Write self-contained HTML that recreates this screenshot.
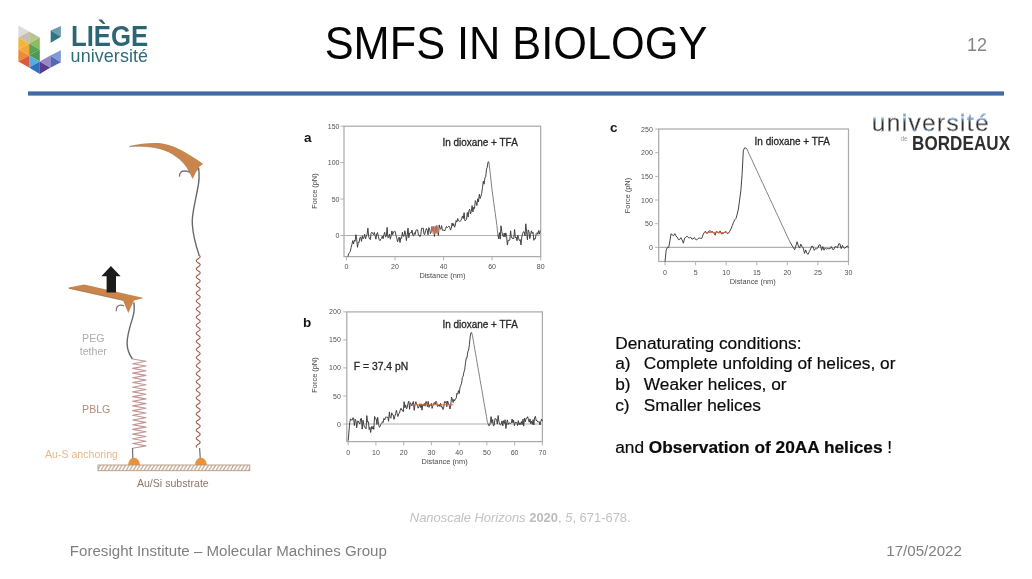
<!DOCTYPE html>
<html><head><meta charset="utf-8"><title>SMFS in Biology</title>
<style>
html,body{margin:0;padding:0;background:#fff;}
body{width:1032px;height:579px;position:relative;overflow:hidden;font-family:"Liberation Sans",Arial,sans-serif;color:#000;}
#stage{position:absolute;left:0;top:0;width:1032px;height:579px;will-change:transform;transform:translateZ(0);filter:blur(0.45px);}
.abs{position:absolute;white-space:nowrap;}
#title{left:0;width:1032px;top:19.1px;text-align:center;font-size:43.3px;line-height:50px;color:#050505;transform:scaleY(1.05);transform-origin:50% 81%;}
#rule{left:28px;top:90.6px;width:975.5px;height:5px;background:linear-gradient(to bottom,rgba(63,108,169,0.35) 0,#3f6ca9 24%,#3f6ca9 76%,rgba(63,108,169,0.35) 100%);}
#pnum{left:967px;top:33.5px;font-size:18px;line-height:22px;color:#858585;}
#foot-l{left:69.8px;top:542px;font-size:15.1px;line-height:18px;color:#7f7f7f;}
#foot-r{left:886.3px;top:542px;font-size:15.1px;line-height:18px;color:#7f7f7f;}
#cite{left:409.8px;top:509.5px;font-size:12.95px;line-height:16px;color:#c2c2c2;}
#cite b{color:#bcbcbc;}
#txt{left:615.2px;top:332.6px;font-size:17.3px;line-height:20.8px;color:#0a0a0a;-webkit-text-stroke:0.2px #0a0a0a;}
#txt .k{display:inline-block;width:28.6px;}
svg{position:absolute;left:0;top:0;}
svg text{font-family:"Liberation Sans",Arial,sans-serif;}
#lg1{left:70.7px;top:19.1px;font-size:28.6px;line-height:34px;font-weight:bold;color:#2c6674;transform:scale(0.9,1.05);transform-origin:0 78%;}
#lg2{left:70.6px;top:44.8px;font-size:17.9px;letter-spacing:0.1px;line-height:22px;color:#2f6a78;}
#bx1{left:871.8px;top:108px;font-size:24.5px;line-height:30px;letter-spacing:1.32px;-webkit-text-stroke:0.28px #fff;color:transparent;-webkit-background-clip:text;background-clip:text;background-repeat:no-repeat;background-image:linear-gradient(to bottom,#5a9ad8 0,#5a9ad8 36%,rgba(90,154,216,0) 50%),linear-gradient(to bottom,#5a9ad8 0,#5a9ad8 36%,rgba(90,154,216,0) 50%),linear-gradient(to top,#5a9ad8 0,#5a9ad8 20%,rgba(90,154,216,0) 34%),linear-gradient(to bottom,#5a9ad8 0,#5a9ad8 36%,rgba(90,154,216,0) 50%),linear-gradient(#2f2f2f,#2f2f2f);background-size:14.6px 100%,6.8px 100%,28.4px 100%,43.6px 100%,100% 100%;background-position:0 0,29.8px 0,36.7px 0,74.5px 0,0 0;}
#bx2{left:912.3px;top:132.8px;font-size:19.2px;line-height:22px;font-weight:bold;color:#2e2e2e;transform:scale(0.887,1.04);transform-origin:0 78%;letter-spacing:0.1px;}
#bx3{left:900.5px;top:134.5px;font-size:6.5px;line-height:8px;color:#9a9a9a;}
</style></head>
<body>
<div id="stage">
<div class="abs" id="title">SMFS IN BIOLOGY</div>
<div class="abs" id="rule"></div>
<div class="abs" id="pnum">12</div>
<svg width="1032" height="579" viewBox="0 0 1032 579">
<g id="liege">
<polygon points="18.4,25.5 29.1,31.5 18.4,37.5" fill="#dcdcdc"/>
<polygon points="29.1,31.5 18.4,37.5 29.1,43.5" fill="#c4bfae"/>
<polygon points="29.1,31.5 39.8,37.5 29.1,43.5" fill="#b9c492"/>
<polygon points="18.4,37.5 29.1,43.5 18.4,49.5" fill="#f2b63c"/>
<polygon points="29.1,43.5 18.4,49.5 29.1,55.5" fill="#f0a83a"/>
<polygon points="39.8,37.5 29.1,43.5 39.8,49.5" fill="#8bbd5e"/>
<polygon points="29.1,43.5 39.8,49.5 29.1,55.5" fill="#5aa355"/>
<polygon points="18.4,49.5 29.1,55.5 18.4,61.5" fill="#ec8a35"/>
<polygon points="29.1,55.5 18.4,61.5 29.1,67.5" fill="#db5a3e"/>
<polygon points="39.8,49.5 29.1,55.5 39.8,61.5" fill="#4f9a50"/>
<polygon points="29.1,55.5 39.8,61.5 29.1,67.5" fill="#52aee0"/>
<polygon points="29.1,67.5 39.8,61.5 39.8,73.9" fill="#2f6fc0"/>
<polygon points="39.8,61.5 50.4,67.5 39.8,73.9" fill="#5a3c8e"/>
<polygon points="39.8,61.5 50.4,55.6 50.4,67.8" fill="#9a86c4"/>
<polygon points="50.4,55.6 60.9,62.2 50.4,67.8" fill="#5568b6"/>
<polygon points="50.4,55.6 60.9,50.2 60.9,62.2" fill="#7f9ad6"/>
<polygon points="50.7,30.6 60.9,25.9 60.9,36.8" fill="#6b9dab"/>
<polygon points="50.7,30.6 60.9,36.8 50.7,42.8" fill="#2f7486"/>
</g>
<g id="diagram">
<path d="M129.4,146 C140,143.5 150,142.6 158.7,143.1 C172,144 186,152 203.2,163.9 L199.4,166.5 L198.6,169 L196.2,171.7 L192.6,179 L189.9,173.5 C187,165 180,158 168.4,151.8 C158,147 145,145.6 129.4,146.6 Z" fill="#c9854c"/>
<path d="M179.5,176.6 C179.3,172.5 181.5,171 184.1,171 C186.5,171 188.3,171.4 189.7,172.2" fill="none" stroke="#77777a" stroke-width="1.3"/>
<path d="M129.4,146.6 C145,145.6 158,147 168.4,151.8 C180,158 187,165 189.9,173.5" fill="none" stroke="#8e6a55" stroke-width="0.8" opacity="0.7"/>
<path d="M198.6,168 C199.6,175 199.2,182 197.4,190 C195,203 191.5,215 192.3,224 C193,235 196,246 199,254.7" fill="none" stroke="#68686c" stroke-width="1.4"/>
<polyline points="198.2,254.7 199.4,255.5 200.1,256.3 200.1,257.1 199.4,257.9 198.3,258.7 197.1,259.5 196.3,260.3 196.3,261.1 196.9,261.9 198.1,262.7 199.3,263.5 200.1,264.3 200.1,265.1 199.5,265.9 198.4,266.7 197.2,267.5 196.4,268.3 196.2,269.1 196.9,269.9 198.0,270.7 199.2,271.5 200.0,272.3 200.2,273.1 199.6,273.9 198.5,274.7 197.3,275.5 196.4,276.3 196.2,277.1 196.8,277.9 197.9,278.7 199.1,279.5 200.0,280.3 200.2,281.1 199.7,281.9 198.6,282.7 197.4,283.5 196.5,284.3 196.2,285.1 196.7,285.9 197.8,286.7 199.0,287.5 199.9,288.3 200.2,289.1 199.7,289.9 198.7,290.7 197.5,291.5 196.5,292.3 196.2,293.1 196.6,293.9 197.7,294.7 198.9,295.5 199.9,296.3 200.2,297.1 199.8,297.9 198.8,298.7 197.6,299.5 196.6,300.3 196.2,301.1 196.6,301.9 197.6,302.7 198.8,303.5 199.8,304.3 200.2,305.1 199.9,305.9 198.9,306.7 197.7,307.5 196.6,308.3 196.2,309.1 196.5,309.9 197.5,310.7 198.7,311.5 199.7,312.3 200.2,313.1 199.9,313.9 199.0,314.7 197.8,315.5 196.7,316.3 196.2,317.1 196.5,317.9 197.4,318.7 198.6,319.5 199.6,320.3 200.2,321.1 200.0,321.9 199.1,322.7 197.9,323.5 196.8,324.3 196.2,325.1 196.4,325.9 197.3,326.7 198.5,327.5 199.6,328.3 200.2,329.1 200.0,329.9 199.2,330.7 198.0,331.5 196.9,332.3 196.2,333.1 196.4,333.9 197.2,334.7 198.4,335.5 199.5,336.3 200.1,337.1 200.1,337.9 199.3,338.7 198.1,339.5 197.0,340.3 196.3,341.1 196.3,341.9 197.1,342.7 198.2,343.5 199.4,344.3 200.1,345.1 200.1,345.9 199.4,346.7 198.2,347.5 197.0,348.3 196.3,349.1 196.3,349.9 197.0,350.7 198.1,351.5 199.3,352.3 200.1,353.1 200.1,353.9 199.5,354.7 198.3,355.5 197.1,356.3 196.3,357.1 196.3,357.9 196.9,358.7 198.0,359.5 199.2,360.3 200.0,361.1 200.2,361.9 199.5,362.7 198.4,363.5 197.2,364.3 196.4,365.1 196.2,365.9 196.8,366.7 197.9,367.5 199.1,368.3 200.0,369.1 200.2,369.9 199.6,370.7 198.5,371.5 197.3,372.3 196.4,373.1 196.2,373.9 196.7,374.7 197.8,375.5 199.0,376.3 199.9,377.1 200.2,377.9 199.7,378.7 198.6,379.5 197.4,380.3 196.5,381.1 196.2,381.9 196.7,382.7 197.7,383.5 198.9,384.3 199.9,385.1 200.2,385.9 199.8,386.7 198.7,387.5 197.5,388.3 196.6,389.1 196.2,389.9 196.6,390.7 197.6,391.5 198.8,392.3 199.8,393.1 200.2,393.9 199.8,394.7 198.8,395.5 197.6,396.3 196.6,397.1 196.2,397.9 196.5,398.7 197.5,399.5 198.7,400.3 199.8,401.1 200.2,401.9 199.9,402.7 199.0,403.5 197.7,404.3 196.7,405.1 196.2,405.9 196.5,406.7 197.4,407.5 198.6,408.3 199.7,409.1 200.2,409.9 199.9,410.7 199.1,411.5 197.8,412.3 196.8,413.1 196.2,413.9 196.4,414.7 197.3,415.5 198.5,416.3 199.6,417.1 200.2,417.9 200.0,418.7 199.1,419.5 197.9,420.3 196.8,421.1 196.2,421.9 196.4,422.7 197.2,423.5 198.4,424.3 199.5,425.1 200.2,425.9 200.0,426.7 199.2,427.5 198.1,428.3 196.9,429.1 196.3,429.9 196.3,430.7 197.1,431.5 198.3,432.3 199.4,433.1 200.1,433.9 200.1,434.7 199.3,435.5 198.2,436.3 197.0,437.1 196.3,437.9 196.3,438.7 197.0,439.5 198.2,440.3 199.4,441.1 200.1,441.9 200.1,442.7 199.4,443.5 198.3,444.3 197.1,445.1 196.3,445.9 196.3,446.7 196.9,447.5" fill="none" stroke="#a05a4e" stroke-width="1.05"/>
<line x1="199.6" y1="448" x2="200.2" y2="458" stroke="#6e6e72" stroke-width="1.2"/>
<path d="M68.7,287.4 L84.2,284.4 L143.7,297.9 L134,300.6 L128.3,313 L123,300.4 L68.7,288.4 Z" fill="#c9854c"/>
<path d="M116.2,311.2 C116,307 118,305.2 120.5,305.2 C122,305.2 123,305.4 124,306" fill="none" stroke="#77777a" stroke-width="1.3"/>
<path d="M68.7,288.2 L123,300.4" fill="none" stroke="#8e6a55" stroke-width="0.8" opacity="0.7"/>
<path d="M110.9,266 L120.6,276.3 L116,276.3 L116,292.5 L106.6,292.5 L106.6,276.3 L101.4,276.3 Z" fill="#1c1c1c"/>
<path d="M133.8,302.5 C135,309 133.8,314 132.6,318 C130,326 127,335 127.1,343.5 C127.3,351 129.5,355 132.5,359" fill="none" stroke="#68686c" stroke-width="1.4"/>
<polyline points="132.6,359.0 146.0,361.3 132.6,363.7 146.0,366.0 132.6,368.4 146.0,370.7 132.6,373.1 146.0,375.4 132.6,377.8 146.0,380.1 132.6,382.5 146.0,384.8 132.6,387.2 146.0,389.5 132.6,391.9 146.0,394.2 132.6,396.6 146.0,398.9 132.6,401.3 146.0,403.6 132.6,405.9 146.0,408.3 132.6,410.6 146.0,413.0 132.6,415.3 146.0,417.7 132.6,420.0 146.0,422.4 132.6,424.7 146.0,427.1 132.6,429.4 146.0,431.8 132.6,434.1 146.0,436.5 132.6,438.8 146.0,441.2 132.6,443.5 146.0,445.9 132.6,448.2" fill="none" stroke="#c39696" stroke-width="1.15" stroke-linejoin="round"/>
<line x1="132.5" y1="448" x2="132.8" y2="458" stroke="#6e6e72" stroke-width="1.2"/>
<path d="M128.0,465 A6,7.2 0 0 1 140.0,465 Z" fill="#e8923a"/>
<path d="M194.9,465 A6,7.2 0 0 1 206.9,465 Z" fill="#e8923a"/>
<defs><pattern id="hat" width="3.6" height="6" patternUnits="userSpaceOnUse" patternTransform="translate(98,465)"><path d="M-1,6 L2.6,0 M2.6,6 L6.2,0" stroke="#c2a88f" stroke-width="1.3"/></pattern></defs>
<rect x="98" y="465" width="151.8" height="5.7" fill="url(#hat)" stroke="#b59885" stroke-width="0.9"/>
<text x="93.3" y="341.6" font-size="10.6" fill="#adadad" text-anchor="middle">PEG</text>
<text x="93.3" y="354.5" font-size="10.6" fill="#adadad" text-anchor="middle">tether</text>
<text x="96.2" y="412.9" font-size="10.6" fill="#b48a78" text-anchor="middle">PBLG</text>
<text x="81.5" y="458" font-size="10.6" fill="#ecb686" text-anchor="middle">Au-S anchoring</text>
<text x="172.8" y="487" font-size="10.6" fill="#917669" text-anchor="middle">Au/Si substrate</text>
</g>
<g id="charts">
<rect x="344.0" y="126.2" width="196.7" height="130.4" fill="none" stroke="#ababab" stroke-width="1.25"/>
<line x1="344.0" y1="235.5" x2="540.7" y2="235.5" stroke="#b0b0b0" stroke-width="1.2"/>
<line x1="346.4" y1="256.6" x2="346.4" y2="260.4" stroke="#ababab" stroke-width="0.9"/>
<text x="346.4" y="269.0" font-size="7" fill="#505050" text-anchor="middle">0</text>
<line x1="395.0" y1="256.6" x2="395.0" y2="260.4" stroke="#ababab" stroke-width="0.9"/>
<text x="395.0" y="269.0" font-size="7" fill="#505050" text-anchor="middle">20</text>
<line x1="443.6" y1="256.6" x2="443.6" y2="260.4" stroke="#ababab" stroke-width="0.9"/>
<text x="443.6" y="269.0" font-size="7" fill="#505050" text-anchor="middle">40</text>
<line x1="492.1" y1="256.6" x2="492.1" y2="260.4" stroke="#ababab" stroke-width="0.9"/>
<text x="492.1" y="269.0" font-size="7" fill="#505050" text-anchor="middle">60</text>
<line x1="540.7" y1="256.6" x2="540.7" y2="260.4" stroke="#ababab" stroke-width="0.9"/>
<text x="540.7" y="269.0" font-size="7" fill="#505050" text-anchor="middle">80</text>
<line x1="340.4" y1="235.5" x2="344.0" y2="235.5" stroke="#ababab" stroke-width="0.9"/>
<text x="339.5" y="238.0" font-size="7" fill="#505050" text-anchor="end">0</text>
<line x1="340.4" y1="199.1" x2="344.0" y2="199.1" stroke="#ababab" stroke-width="0.9"/>
<text x="339.5" y="201.6" font-size="7" fill="#505050" text-anchor="end">50</text>
<line x1="340.4" y1="162.6" x2="344.0" y2="162.6" stroke="#ababab" stroke-width="0.9"/>
<text x="339.5" y="165.1" font-size="7" fill="#505050" text-anchor="end">100</text>
<line x1="340.4" y1="126.2" x2="344.0" y2="126.2" stroke="#ababab" stroke-width="0.9"/>
<text x="339.5" y="128.7" font-size="7" fill="#505050" text-anchor="end">150</text>
<text x="442.4" y="278.4" font-size="7.4" fill="#4a4a4a" text-anchor="middle">Distance (nm)</text>
<text transform="translate(316.6,191.0) rotate(-90)" font-size="7.4" fill="#4a4a4a" text-anchor="middle">Force (pN)</text>
<text x="442.4" y="146.0" font-size="10.6" textLength="75.4" lengthAdjust="spacingAndGlyphs" fill="#262626" stroke="#262626" stroke-width="0.3">In dioxane + TFA</text>
<text x="303.9" y="141.6" font-size="13.5" font-weight="bold" fill="#161616">a</text>
<polyline fill="none" stroke="#7a7a7a" stroke-width="0.95" stroke-linejoin="round" points="488.9,162.1 489.7,168.9 490.5,175.9 491.3,183.1 492.1,190.5 492.9,196.2 493.7,202.4 494.5,208.1 495.3,213.8 496.1,219.5 496.9,225.5 497.8,234.6"/>
<polyline fill="none" stroke="#3a3a3a" stroke-width="0.95" stroke-linejoin="round" points="347.9,256.6 348.7,253.7 349.5,252.6 350.3,251.4 351.1,247.6 351.9,244.6 352.7,240.7 353.5,244.0 354.3,240.2 355.1,241.3 355.9,234.7 356.7,239.1 357.5,247.3 358.3,242.2 359.1,242.5 359.9,237.6 360.7,237.2 361.5,241.4 362.3,235.8 363.1,238.8 363.9,237.4 364.7,234.3 365.5,238.9 366.3,236.3 367.1,234.3 367.9,228.2 368.7,236.7 369.5,238.8 370.3,239.6 371.1,233.2 371.9,232.2 372.7,233.7 373.5,234.7 374.3,232.4 375.1,235.6 375.9,239.2 376.7,234.0 377.5,232.5 378.3,236.3 379.1,239.4 379.9,240.7 380.7,239.1 381.5,238.4 382.3,236.1 383.1,238.8 383.9,234.7 384.7,232.3 385.5,237.0 386.3,236.3 387.1,227.4 387.9,237.8 388.7,237.3 389.5,234.2 390.3,239.2 391.1,236.0 391.9,230.9 392.7,234.7 393.5,231.9 394.3,231.3 395.2,231.5 396.0,235.6 396.8,238.1 397.6,241.8 398.4,239.3 399.2,237.1 400.0,242.6 400.8,237.7 401.6,238.3 402.4,232.2 403.2,236.2 404.0,236.2 404.8,230.8 405.6,234.1 406.4,240.6 407.2,235.0 408.0,228.1 408.8,237.7 409.6,233.0 410.4,232.7 411.2,233.1 412.0,230.1 412.8,235.3 413.6,236.0 414.4,232.7 415.2,234.4 416.0,230.2 416.8,229.7 417.6,230.0 418.4,235.1 419.2,235.0 420.0,236.6 420.8,234.5 421.6,228.2 422.4,228.3 423.2,228.0 424.0,234.3 424.8,234.4 425.6,230.5 426.4,228.5 427.2,230.1 428.0,234.9 428.8,227.6 429.6,228.8 430.4,233.7 431.2,232.3 432.0,226.5 432.8,231.4 433.6,226.7 434.4,236.4 435.2,226.5 436.0,232.9 436.8,225.5 437.6,230.8 438.4,235.4 439.2,224.9 440.0,228.6 440.8,229.2 441.6,225.6 442.4,230.4 443.2,230.3 444.0,230.0 444.8,230.9 445.6,228.7 446.5,226.5 447.3,227.7 448.1,226.8 448.9,226.1 449.7,226.7 450.5,230.1 451.3,228.2 452.1,223.0 452.9,226.1 453.7,223.6 454.5,227.2 455.3,225.5 456.1,220.5 456.9,222.0 457.7,218.5 458.5,220.7 459.3,221.2 460.1,221.3 460.9,220.7 461.7,218.4 462.5,215.9 463.3,218.6 464.1,212.7 464.9,220.8 465.7,220.4 466.5,219.5 467.3,212.5 468.1,217.1 468.9,210.6 469.7,209.1 470.5,214.0 471.3,211.6 472.1,205.6 472.9,211.9 473.7,207.2 474.5,208.5 475.3,200.6 476.1,202.3 476.9,205.5 477.7,198.7 478.5,202.0 479.3,194.2 480.1,198.5 480.9,196.3 481.7,193.3 482.5,187.4 483.3,181.2 484.1,184.2 484.9,178.0 485.7,176.9 486.5,169.1 487.3,167.1 488.1,161.8 488.9,162.1"/>
<polyline fill="none" stroke="#3a3a3a" stroke-width="0.95" stroke-linejoin="round" points="497.8,234.6 498.6,238.8 499.4,232.6 500.2,239.1 501.0,225.8 501.8,231.7 502.6,235.4 503.4,236.6 504.2,233.1 505.0,237.1 505.8,232.9 506.6,236.4 507.4,245.1 508.2,240.2 509.0,240.6 509.8,240.0 510.6,230.8 511.4,237.6 512.2,237.5 513.0,239.0 513.8,237.8 514.6,229.5 515.4,237.9 516.2,237.1 517.0,240.7 517.8,235.1 518.6,238.3 519.4,240.6 520.2,239.6 521.0,244.9 521.8,237.0 522.6,233.7 523.4,231.7 524.2,232.1 525.0,235.9 525.8,223.8 526.6,231.9 527.4,239.8 528.2,229.9 529.0,231.7 529.8,238.6 530.6,234.3 531.4,230.8 532.2,233.4 533.0,232.2 533.8,240.3 534.6,238.5 535.4,238.8 536.2,233.5 537.0,232.7 537.8,234.4 538.6,230.6 539.4,234.1 540.2,230.5"/>
<circle cx="435.1" cy="230.1" r="4.3" fill="#ee8468" opacity="0.62"/>
<rect x="346.8" y="311.9" width="195.6" height="129.7" fill="none" stroke="#ababab" stroke-width="1.25"/>
<line x1="346.8" y1="424.0" x2="542.4" y2="424.0" stroke="#b0b0b0" stroke-width="1.2"/>
<line x1="348.2" y1="441.6" x2="348.2" y2="445.4" stroke="#ababab" stroke-width="0.9"/>
<text x="348.2" y="454.5" font-size="7" fill="#505050" text-anchor="middle">0</text>
<line x1="375.9" y1="441.6" x2="375.9" y2="445.4" stroke="#ababab" stroke-width="0.9"/>
<text x="375.9" y="454.5" font-size="7" fill="#505050" text-anchor="middle">10</text>
<line x1="403.7" y1="441.6" x2="403.7" y2="445.4" stroke="#ababab" stroke-width="0.9"/>
<text x="403.7" y="454.5" font-size="7" fill="#505050" text-anchor="middle">20</text>
<line x1="431.4" y1="441.6" x2="431.4" y2="445.4" stroke="#ababab" stroke-width="0.9"/>
<text x="431.4" y="454.5" font-size="7" fill="#505050" text-anchor="middle">30</text>
<line x1="459.2" y1="441.6" x2="459.2" y2="445.4" stroke="#ababab" stroke-width="0.9"/>
<text x="459.2" y="454.5" font-size="7" fill="#505050" text-anchor="middle">40</text>
<line x1="486.9" y1="441.6" x2="486.9" y2="445.4" stroke="#ababab" stroke-width="0.9"/>
<text x="486.9" y="454.5" font-size="7" fill="#505050" text-anchor="middle">50</text>
<line x1="514.6" y1="441.6" x2="514.6" y2="445.4" stroke="#ababab" stroke-width="0.9"/>
<text x="514.6" y="454.5" font-size="7" fill="#505050" text-anchor="middle">60</text>
<line x1="542.4" y1="441.6" x2="542.4" y2="445.4" stroke="#ababab" stroke-width="0.9"/>
<text x="542.4" y="454.5" font-size="7" fill="#505050" text-anchor="middle">70</text>
<line x1="343.2" y1="424.0" x2="346.8" y2="424.0" stroke="#ababab" stroke-width="0.9"/>
<text x="340.8" y="426.5" font-size="7" fill="#505050" text-anchor="end">0</text>
<line x1="343.2" y1="396.0" x2="346.8" y2="396.0" stroke="#ababab" stroke-width="0.9"/>
<text x="340.8" y="398.5" font-size="7" fill="#505050" text-anchor="end">50</text>
<line x1="343.2" y1="367.9" x2="346.8" y2="367.9" stroke="#ababab" stroke-width="0.9"/>
<text x="340.8" y="370.4" font-size="7" fill="#505050" text-anchor="end">100</text>
<line x1="343.2" y1="339.9" x2="346.8" y2="339.9" stroke="#ababab" stroke-width="0.9"/>
<text x="340.8" y="342.4" font-size="7" fill="#505050" text-anchor="end">150</text>
<line x1="343.2" y1="311.9" x2="346.8" y2="311.9" stroke="#ababab" stroke-width="0.9"/>
<text x="340.8" y="314.4" font-size="7" fill="#505050" text-anchor="end">200</text>
<text x="444.6" y="463.7" font-size="7.4" fill="#4a4a4a" text-anchor="middle">Distance (nm)</text>
<text transform="translate(316.6,375.0) rotate(-90)" font-size="7.4" fill="#4a4a4a" text-anchor="middle">Force (pN)</text>
<text x="442.4" y="327.6" font-size="10.6" textLength="75.4" lengthAdjust="spacingAndGlyphs" fill="#262626" stroke="#262626" stroke-width="0.3">In dioxane + TFA</text>
<text x="303.0" y="327.0" font-size="13.5" font-weight="bold" fill="#161616">b</text>
<polyline fill="none" stroke="#7a7a7a" stroke-width="0.95" stroke-linejoin="round" points="471.7,332.6 472.5,335.8 473.3,340.3 474.0,344.8 474.8,349.3 475.6,353.8 476.4,358.3 477.1,362.8 477.9,367.3 478.7,371.7 479.5,376.2 480.2,380.7 481.0,385.2 481.8,389.7 482.6,394.2 483.3,398.7 484.1,403.2 484.9,407.7 485.7,412.1 486.5,416.6 487.2,421.1 488.0,423.6"/>
<polyline fill="none" stroke="#3a3a3a" stroke-width="0.95" stroke-linejoin="round" points="348.2,440.8 349.0,431.0 349.8,422.3 350.5,418.8 351.3,419.8 352.1,420.4 352.9,417.7 353.6,418.1 354.4,425.6 355.2,419.3 356.0,421.1 356.7,427.8 357.5,421.1 358.3,421.1 359.1,423.0 359.9,424.0 360.6,419.0 361.4,418.2 362.2,429.1 363.0,420.2 363.7,424.4 364.5,427.2 365.3,427.5 366.1,428.8 366.8,415.6 367.6,422.1 368.4,421.8 369.2,429.6 369.9,427.4 370.7,432.5 371.5,426.6 372.3,429.1 373.1,426.2 373.8,429.4 374.6,416.4 375.4,418.7 376.2,418.7 376.9,424.5 377.7,417.3 378.5,424.2 379.3,427.2 380.0,426.7 380.8,424.5 381.6,423.7 382.4,421.6 383.2,422.4 383.9,418.5 384.7,420.0 385.5,417.2 386.3,416.8 387.0,417.7 387.8,417.0 388.6,421.3 389.4,411.9 390.1,417.5 390.9,418.3 391.7,412.8 392.5,414.7 393.2,414.9 394.0,419.4 394.8,416.4 395.6,413.8 396.4,410.3 397.1,413.4 397.9,416.5 398.7,413.9 399.5,413.0 400.2,410.1 401.0,408.3 401.8,410.2 402.6,410.0 403.3,411.7 404.1,401.7 404.9,407.8 405.7,404.9 406.5,408.9 407.2,407.6 408.0,403.2 408.8,401.1 409.6,409.3 410.3,402.7 411.1,404.1 411.9,405.8 412.7,402.6 413.4,401.5 414.2,410.3 415.0,404.7 415.8,401.7 416.6,403.8 417.3,405.2 418.1,408.2 418.9,406.8 419.7,403.8 420.4,407.5 421.2,403.8 422.0,410.2 422.8,404.6 423.5,405.6 424.3,403.4 425.1,406.2 425.9,401.4 426.6,401.9 427.4,406.7 428.2,401.4 429.0,407.4 429.8,404.7 430.5,405.3 431.3,403.4 432.1,408.4 432.9,405.8 433.6,403.3 434.4,402.5 435.2,404.6 436.0,401.2 436.7,402.3 437.5,406.6 438.3,406.1 439.1,404.6 439.9,406.6 440.6,403.3 441.4,407.1 442.2,406.6 443.0,409.5 443.7,407.7 444.5,401.6 445.3,402.8 446.1,401.3 446.8,406.7 447.6,401.0 448.4,403.2 449.2,405.3 450.0,409.0 450.7,406.0 451.5,397.2 452.3,399.1 453.1,402.5 453.8,399.4 454.6,400.9 455.4,398.8 456.2,398.4 456.9,393.3 457.7,394.3 458.5,390.6 459.3,393.5 460.0,387.3 460.8,385.4 461.6,383.1 462.4,377.4 463.2,376.1 463.9,372.2 464.7,369.6 465.5,362.9 466.3,357.8 467.0,357.9 467.8,351.8 468.6,350.0 469.4,344.8 470.1,337.3 470.9,332.8 471.7,332.6"/>
<polyline fill="none" stroke="#3a3a3a" stroke-width="0.95" stroke-linejoin="round" points="488.0,423.6 488.8,425.7 489.6,425.5 490.3,422.5 491.1,416.6 491.9,423.2 492.7,419.6 493.4,425.9 494.2,425.3 495.0,418.5 495.8,418.9 496.6,419.4 497.3,424.1 498.1,415.5 498.9,421.4 499.7,424.4 500.4,425.0 501.2,424.0 502.0,420.9 502.8,425.9 503.5,420.7 504.3,423.5 505.1,419.7 505.9,428.5 506.7,422.8 507.4,419.9 508.2,424.6 509.0,422.7 509.8,423.4 510.5,423.4 511.3,423.0 512.1,419.0 512.9,422.9 513.6,420.1 514.4,425.7 515.2,422.4 516.0,422.5 516.7,422.4 517.5,425.6 518.3,420.6 519.1,424.9 519.9,422.7 520.6,424.5 521.4,421.5 522.2,424.7 523.0,419.2 523.7,426.1 524.5,418.1 525.3,421.8 526.1,418.2 526.8,418.4 527.6,416.7 528.4,419.3 529.2,422.2 530.0,418.9 530.7,423.7 531.5,421.3 532.3,424.4 533.1,419.6 533.8,425.0 534.6,417.5 535.4,416.3 536.2,420.6 536.9,420.3 537.7,421.9 538.5,421.9 539.3,421.7 540.0,425.0 540.8,421.3 541.6,419.1 542.4,421.2"/>
<line x1="412.0" y1="404.7" x2="453.6" y2="404.7" stroke="#d06a4a" stroke-width="1.1" opacity="0.9"/>
<text x="353.8" y="370" font-size="10.6" textLength="54.4" lengthAdjust="spacingAndGlyphs" fill="#262626" stroke="#262626" stroke-width="0.3">F = 37.4 pN</text>
<rect x="658.7" y="129.0" width="189.8" height="132.5" fill="none" stroke="#ababab" stroke-width="1.25"/>
<line x1="658.7" y1="247.4" x2="848.5" y2="247.4" stroke="#b0b0b0" stroke-width="1.2"/>
<line x1="665.0" y1="261.5" x2="665.0" y2="265.3" stroke="#ababab" stroke-width="0.9"/>
<text x="665.0" y="274.6" font-size="7" fill="#505050" text-anchor="middle">0</text>
<line x1="695.6" y1="261.5" x2="695.6" y2="265.3" stroke="#ababab" stroke-width="0.9"/>
<text x="695.6" y="274.6" font-size="7" fill="#505050" text-anchor="middle">5</text>
<line x1="726.2" y1="261.5" x2="726.2" y2="265.3" stroke="#ababab" stroke-width="0.9"/>
<text x="726.2" y="274.6" font-size="7" fill="#505050" text-anchor="middle">10</text>
<line x1="756.8" y1="261.5" x2="756.8" y2="265.3" stroke="#ababab" stroke-width="0.9"/>
<text x="756.8" y="274.6" font-size="7" fill="#505050" text-anchor="middle">15</text>
<line x1="787.3" y1="261.5" x2="787.3" y2="265.3" stroke="#ababab" stroke-width="0.9"/>
<text x="787.3" y="274.6" font-size="7" fill="#505050" text-anchor="middle">20</text>
<line x1="817.9" y1="261.5" x2="817.9" y2="265.3" stroke="#ababab" stroke-width="0.9"/>
<text x="817.9" y="274.6" font-size="7" fill="#505050" text-anchor="middle">25</text>
<line x1="848.5" y1="261.5" x2="848.5" y2="265.3" stroke="#ababab" stroke-width="0.9"/>
<text x="848.5" y="274.6" font-size="7" fill="#505050" text-anchor="middle">30</text>
<line x1="655.1" y1="247.4" x2="658.7" y2="247.4" stroke="#ababab" stroke-width="0.9"/>
<text x="652.8" y="249.9" font-size="7" fill="#505050" text-anchor="end">0</text>
<line x1="655.1" y1="223.7" x2="658.7" y2="223.7" stroke="#ababab" stroke-width="0.9"/>
<text x="652.8" y="226.2" font-size="7" fill="#505050" text-anchor="end">50</text>
<line x1="655.1" y1="200.0" x2="658.7" y2="200.0" stroke="#ababab" stroke-width="0.9"/>
<text x="652.8" y="202.5" font-size="7" fill="#505050" text-anchor="end">100</text>
<line x1="655.1" y1="176.4" x2="658.7" y2="176.4" stroke="#ababab" stroke-width="0.9"/>
<text x="652.8" y="178.9" font-size="7" fill="#505050" text-anchor="end">150</text>
<line x1="655.1" y1="152.7" x2="658.7" y2="152.7" stroke="#ababab" stroke-width="0.9"/>
<text x="652.8" y="155.2" font-size="7" fill="#505050" text-anchor="end">200</text>
<line x1="655.1" y1="129.0" x2="658.7" y2="129.0" stroke="#ababab" stroke-width="0.9"/>
<text x="652.8" y="131.5" font-size="7" fill="#505050" text-anchor="end">250</text>
<text x="752.7" y="284.0" font-size="7.4" fill="#4a4a4a" text-anchor="middle">Distance (nm)</text>
<text transform="translate(629.6,195.5) rotate(-90)" font-size="7.4" fill="#4a4a4a" text-anchor="middle">Force (pN)</text>
<text x="754.6" y="145.3" font-size="10.6" textLength="75.4" lengthAdjust="spacingAndGlyphs" fill="#262626" stroke="#262626" stroke-width="0.3">In dioxane + TFA</text>
<text x="610.1" y="132.3" font-size="13.5" font-weight="bold" fill="#161616">c</text>
<polyline fill="none" stroke="#7a7a7a" stroke-width="0.95" stroke-linejoin="round" points="747.0,149.3 748.2,151.9 749.4,154.5 750.6,157.2 751.9,159.8 753.1,162.5 754.3,165.1 755.5,167.8 756.8,170.4 758.0,173.0 759.2,175.7 760.4,178.3 761.6,181.0 762.9,183.6 764.1,186.2 765.3,188.9 766.5,191.5 767.8,194.2 769.0,196.8 770.2,199.5 771.4,202.1 772.7,204.7 773.9,207.4 775.1,210.0 776.3,212.7 777.6,215.3 778.8,217.9 780.0,220.6 781.2,223.2 782.4,225.9 783.7,228.5 784.9,231.2 786.1,233.8 787.3,236.4 788.6,239.1 789.8,241.7"/>
<polyline fill="none" stroke="#3a3a3a" stroke-width="0.95" stroke-linejoin="round" points="665.0,261.6 666.2,250.2 667.4,247.4 668.7,247.4 669.9,240.8 671.1,233.7 672.3,235.0 673.6,235.7 674.8,233.6 676.0,236.0 677.2,237.2 678.5,239.7 679.7,239.5 680.9,237.6 682.1,240.0 683.4,243.2 684.6,238.2 685.8,237.3 687.0,236.1 688.2,237.5 689.5,237.9 690.7,237.2 691.9,239.1 693.1,238.9 694.4,237.5 695.6,239.5 696.8,239.9 698.0,238.5 699.3,238.0 700.5,238.3 701.7,238.5 702.9,235.0 704.1,232.8 705.4,231.2 706.6,233.4 707.8,233.1 709.0,230.8 710.3,231.1 711.5,231.6 712.7,231.6 713.9,233.1 715.2,235.2 716.4,231.4 717.6,231.9 718.8,233.3 720.1,230.9 721.3,233.9 722.5,233.6 723.7,233.2 724.9,231.8 726.2,231.7 727.4,233.6 728.6,233.1 729.8,231.1 731.1,228.7 732.3,225.6 733.5,222.3 734.7,219.9 736.0,218.4 737.2,214.1 738.4,209.0 739.6,200.1 740.9,190.2 742.1,174.4 743.3,150.8 744.5,147.9 745.7,147.9 747.0,149.3"/>
<polyline fill="none" stroke="#3a3a3a" stroke-width="0.95" stroke-linejoin="round" points="789.8,241.7 791.0,243.7 792.2,245.7 793.5,247.8 794.7,249.8 795.9,245.7 797.1,241.8 798.4,246.0 799.6,248.1 800.8,244.2 802.0,246.5 803.2,247.9 804.5,253.4 805.7,249.9 806.9,253.3 808.1,254.4 809.4,251.3 810.6,249.0 811.8,246.1 813.0,246.6 814.3,250.4 815.5,248.5 816.7,248.8 817.9,247.9 819.1,244.8 820.4,245.1 821.6,250.3 822.8,246.6 824.0,250.2 825.3,247.8 826.5,249.2 827.7,248.4 828.9,248.8 830.2,248.6 831.4,246.6 832.6,249.4 833.8,249.5 835.1,246.5 836.3,246.8 837.5,247.8 838.7,243.8 839.9,243.8 841.2,248.6 842.4,245.3 843.6,247.7 844.8,248.3 846.1,246.9 847.3,245.8 848.5,247.6"/>
<line x1="704.8" y1="232.5" x2="727.4" y2="232.5" stroke="#d06a4a" stroke-width="1.1" opacity="0.9"/>
</g>
</svg>
<div class="abs" id="lg1">LIÈGE</div>
<div class="abs" id="lg2">université</div>
<div class="abs" id="bx1">université</div>
<div class="abs" id="bx3">de</div>
<div class="abs" id="bx2">BORDEAUX</div>
<div class="abs" id="txt">Denaturating conditions:<br><span class="k">a)</span>Complete unfolding of helices, or<br><span class="k">b)</span>Weaker helices, or<br><span class="k">c)</span>Smaller helices<br><br>and <b>Observation of 20AA helices</b> !</div>
<div class="abs" id="cite"><i>Nanoscale Horizons</i> <b>2020</b>, <i>5</i>, 671-678.</div>
<div class="abs" id="foot-l">Foresight Institute – Molecular Machines Group</div>
<div class="abs" id="foot-r">17/05/2022</div>
</div>
</body></html>
